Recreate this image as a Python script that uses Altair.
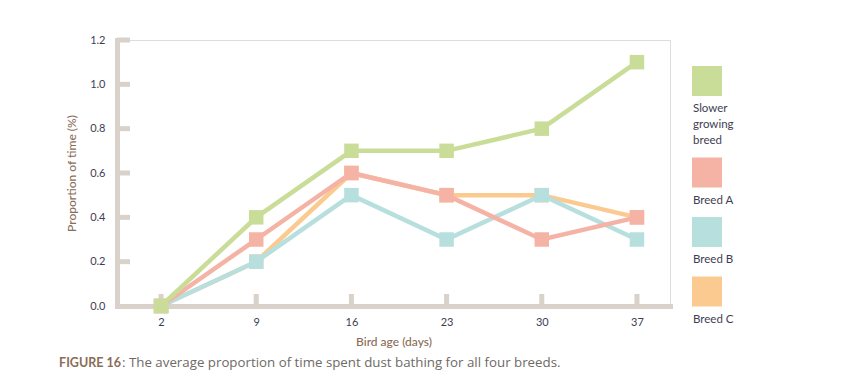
import altair as alt
import pandas as pd

ages = [2, 9, 16, 23, 30, 37]
series_names = ["Slower growing breed", "Breed A", "Breed B", "Breed C"]
legend_labels = ["Slower\ngrowing\nbreed", "Breed A", "Breed B", "Breed C"]
slower = [0.0, 0.4, 0.7, 0.7, 0.8, 1.1]
breed_a = [0.0, 0.3, 0.6, 0.5, 0.3, 0.4]
breed_b = [0.0, 0.2, 0.5, 0.3, 0.5, 0.3]
breed_c = [0.0, 0.2, 0.6, 0.5, 0.5, 0.4]
y_ticks = [0.0, 0.2, 0.4, 0.6, 0.8, 1.0, 1.2]
colors = ["#c9dd98", "#f5b3a5", "#b7dfdd", "#fbca91"]

AX = "#d8d2ca"
LABEL = "#3e3e52"
BROWN = "#8a6c57"
FONT = "Lato"
W, H = 553, 266

values = {"Slower growing breed": slower, "Breed A": breed_a,
          "Breed B": breed_b, "Breed C": breed_c}
rows = []
for name in series_names:
    for a, v in zip(ages, values[name]):
        rows.append({"age": a, "value": v, "breed": name})
df = pd.DataFrame(rows)

xscale = alt.Scale(domain=[-1.24, 39.43], nice=False, zero=False)
yscale = alt.Scale(domain=[0, 1.2], nice=False)
cscale = alt.Scale(domain=series_names, range=colors)

xaxis = alt.Axis(values=ages, grid=False, ticks=False, domainColor=AX, domainWidth=5,
                 domainCap="square", labelColor=LABEL, labelFont=FONT, labelFontSize=11,
                 labelPadding=10, title="Bird age (days)", titleColor=BROWN,
                 titleFont=FONT, titleFontSize=12, titleFontWeight=500, titlePadding=9)
yaxis = alt.Axis(values=y_ticks, format=".1f", grid=False, ticks=False, domainColor=AX,
                 domainWidth=5, domainCap="square", labelColor=LABEL, labelFont=FONT,
                 labelFontSize=11, labelPadding=12, title="Proportion of time (%)",
                 titleColor=BROWN, titleFont=FONT, titleFontSize=12, titleFontWeight=500,
                 titlePadding=11)

base = alt.Chart(df)

# axes (domain + labels) via an invisible layer
axes_layer = base.mark_point(opacity=0).encode(
    x=alt.X("age:Q", scale=xscale, axis=xaxis),
    y=alt.Y("value:Q", scale=yscale, axis=yaxis),
)

ytick_df = pd.DataFrame({"v": y_ticks[1:]})
yticks_layer = alt.Chart(ytick_df).mark_rule(color=AX, strokeWidth=5).encode(
    y=alt.Y("v:Q", scale=yscale), x=alt.value(0), x2=alt.value(13))

xtick_df = pd.DataFrame({"a": ages})
xticks_layer = alt.Chart(xtick_df).mark_rule(color=AX, strokeWidth=5).encode(
    x=alt.X("a:Q", scale=xscale), y=alt.value(H), y2=alt.value(H - 12))

layers = [axes_layer, yticks_layer, xticks_layer]
for name in ["Breed C", "Breed B", "Breed A", "Slower growing breed"]:
    sub = df[df.breed == name]
    enc = dict(x=alt.X("age:Q", scale=xscale),
               y=alt.Y("value:Q", scale=yscale),
               color=alt.Color("breed:N", scale=cscale, legend=None))
    layers.append(alt.Chart(sub).mark_line(strokeWidth=4.5).encode(**enc))
    layers.append(alt.Chart(sub).mark_point(shape="square", filled=True, size=210,
                                            opacity=1).encode(**enc))

# custom legend: square with label beneath
lx = 575
ly = 26
LH = 16
for name, lab, col in zip(series_names, legend_labels, colors):
    ldf = pd.DataFrame({"breed": [name], "label": [lab]})
    layers.append(alt.Chart(ldf).mark_square(size=900, color=col, opacity=1).encode(
        x=alt.value(lx + 15), y=alt.value(ly + 15)))
    layers.append(alt.Chart(ldf).mark_text(align="left", baseline="top", font=FONT,
                                           fontSize=11.5, color=LABEL, lineBreak="\n",
                                           lineHeight=LH).encode(
        x=alt.value(lx + 1), y=alt.value(ly + 37), text="label:N"))
    nlines = lab.count("\n") + 1
    ly += 30 + 7 + LH * nlines + 6.5

# caption
cap_df = pd.DataFrame({"a": ["FIGURE 16"], "b": [": The average proportion of time spent dust bathing for all four breeds."]})
layers.append(alt.Chart(cap_df).mark_text(align="right", baseline="middle", font=FONT,
                                          fontSize=12.5, fontWeight="bold", color=BROWN).encode(
    x=alt.value(4), y=alt.value(H + 57), text="a:N"))
layers.append(alt.Chart(cap_df).mark_text(align="left", baseline="middle", font="Open Sans",
                                          fontSize=13.3, color="#6e6a66").encode(
    x=alt.value(5), y=alt.value(H + 57), text="b:N"))

chart = alt.layer(*layers).properties(
    width=W, height=H,
    autosize=alt.AutoSizeParams(type="none"),
    padding={"left": 109, "top": 32, "right": 160, "bottom": 66},
).configure_view(stroke=None).configure(background="white")

chart.save("out.html", embed_options={"renderer": "svg", "actions": False})
